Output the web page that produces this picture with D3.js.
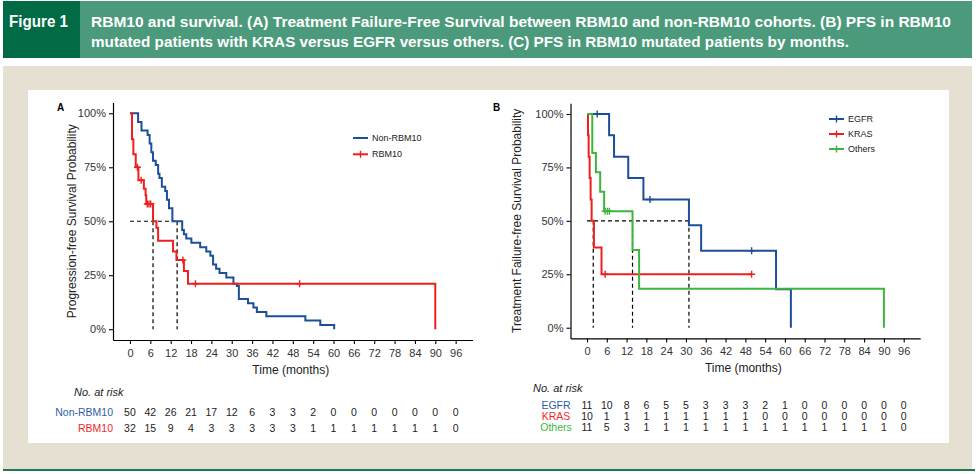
<!DOCTYPE html>
<html>
<head>
<meta charset="utf-8">
<script src="https://cdn.jsdelivr.net/npm/d3@7"></script>
<style>
  body { margin: 0; background: #fff; }
  svg { display: block; font-family: "Liberation Sans", Arial, sans-serif; }
</style>
</head>
<body>
<svg id="chart" width="978" height="474"></svg>
<script>
// ---- data ----
const monthTicks = d3.range(0, 97, 6);
const survTicks = [0, 0.25, 0.5, 0.75, 1];

// Panel A: progression-free survival, Non-RBM10 vs RBM10
const nonRbmTimes = [0, 2.4, 3.4, 5.2, 5.8, 6.3, 6.8, 7.6, 8.3, 8.7, 9.4, 10.4, 10.9, 11.5, 12.5,
  15.4, 15.9, 16.6, 18.1, 20.7, 22.5, 23.7, 24.5, 25.4, 26.4, 28.4, 30.5, 31.5, 32.1, 34.8,
  36.4, 37.4, 40.2, 51.7, 56.1, 60.2];
const nonRbmSurv = [1, 0.96, 0.92, 0.90, 0.86, 0.82, 0.78, 0.76, 0.72, 0.70, 0.66, 0.64, 0.60, 0.56, 0.50,
  0.46, 0.44, 0.42, 0.40, 0.38, 0.36, 0.34, 0.30, 0.28, 0.26, 0.24, 0.21, 0.20, 0.14, 0.12,
  0.10, 0.08, 0.06, 0.04, 0.02, 0];
const rbmTimes = [0, 0.6, 1.0, 1.7, 2.5, 4.1, 4.6, 4.8, 6.8, 7.8, 8.3, 12.7, 13.7, 15.9, 17.1, 90];
const rbmSurv = [1, 0.88, 0.81, 0.75, 0.69, 0.65, 0.62, 0.58, 0.50, 0.47, 0.41, 0.36, 0.32, 0.27, 0.21, 0];
const rbmCensor = [2.2, 3.3, 5.1, 5.6, 6.1, 15.6, 19.3, 50];
const mediansA = [6.8, 13.9];

const riskGroupsA = ["Non-RBM10", "RBM10"];
const riskNonRbm = [50, 42, 26, 21, 17, 12, 6, 3, 3, 2, 0, 0, 0, 0, 0, 0, 0];
const riskRbm = [32, 15, 9, 4, 3, 3, 3, 3, 3, 1, 1, 1, 1, 1, 1, 1, 0];

// Panel B: treatment failure-free survival by co-mutation
const egfrTimes = [0, 6.7, 8.2, 12.5, 17.1, 30.9, 34.6, 57.3, 61.8];
const egfrSurv = [1, 0.9, 0.8, 0.7, 0.6, 0.48, 0.36, 0.18, 0];
const egfrCensor = [3.1, 19.1, 49.9];
const krasTimes = [0, 0.3, 0.5, 0.8, 1.1, 1.4, 2.1, 4.4, 49.9];
const krasSurv = [1, 0.9, 0.8, 0.7, 0.6, 0.5, 0.375, 0.25, 0.25];
const krasCensor = [5.5, 49.9];
const othersTimes = [0, 1.6, 2.7, 4.0, 5.2, 13.8, 15.8, 90];
const othersSurv = [1, 0.818, 0.727, 0.636, 0.545, 0.364, 0.182, 0];
const othersCensor = [5.5, 6.2, 6.8];
const mediansB = [1.9, 13.8, 30.9];

const riskGroupsB = ["EGFR", "KRAS", "Others"];
const riskEgfr = [11, 10, 8, 6, 5, 5, 3, 3, 3, 2, 1, 0, 0, 0, 0, 0, 0];
const riskKras = [10, 1, 1, 1, 1, 1, 1, 1, 1, 0, 0, 0, 0, 0, 0, 0, 0];
const riskOthers = [11, 5, 3, 1, 1, 1, 1, 1, 1, 1, 1, 1, 1, 1, 1, 1, 0];

// ---- colours ----
const blue = "#1d4f98", red = "#ee1f1f", green = "#3fb43f";
const txt = "#222";

const svg = d3.select("#chart");

// ---- page frame ----
svg.append("rect").attr("x", 3).attr("y", 1).attr("width", 969).attr("height", 57).attr("fill", "#4b9a7c");
svg.append("rect").attr("x", 3).attr("y", 1).attr("width", 77).attr("height", 57).attr("fill", "#006b45");
svg.append("rect").attr("x", 3).attr("y", 66).attr("width", 969).attr("height", 403).attr("fill", "#e6e0d2");
svg.append("rect").attr("x", 28).attr("y", 90).attr("width", 921).attr("height", 353).attr("fill", "#fff");
svg.append("rect").attr("x", 3).attr("y", 469).attr("width", 972).attr("height", 2).attr("fill", "#1e7a52");

const headFont = '"Liberation Sans Narrow", "Arial Narrow", "Liberation Sans", sans-serif';
svg.append("text").attr("x", 9).attr("y", 27)
  .attr("textLength", 59).attr("lengthAdjust", "spacingAndGlyphs")
  .style("font-family", headFont).style("font-weight", "bold").style("font-size", "16px")
  .attr("fill", "#fff").text("Figure 1");
svg.append("text").attr("x", 91).attr("y", 27)
  .attr("textLength", 860).attr("lengthAdjust", "spacingAndGlyphs")
  .style("font-family", headFont).style("font-weight", "bold").style("font-size", "15px")
  .attr("fill", "#fff")
  .text("RBM10 and survival. (A) Treatment Failure-Free Survival between RBM10 and non-RBM10 cohorts. (B) PFS in RBM10");
svg.append("text").attr("x", 91).attr("y", 47)
  .attr("textLength", 758).attr("lengthAdjust", "spacingAndGlyphs")
  .style("font-family", headFont).style("font-weight", "bold").style("font-size", "15px")
  .attr("fill", "#fff")
  .text("mutated patients with KRAS versus EGFR versus others. (C) PFS in RBM10 mutated patients by months.");

// ---- one Kaplan-Meier panel ----
function drawPanel(p) {
  const x = d3.scaleLinear().domain([-5, 101]).range([p.left, p.left + p.xLen]);
  const zeroX = x(0);
  const y = d3.scaleLinear().domain([-0.05, 1.05]).range([p.bottom, p.top]);
  const g = svg.append("g");

  // axes
  const xAxis = g.append("g").attr("transform", `translate(0,${p.bottom})`)
    .call(d3.axisBottom(x).tickValues(monthTicks).tickSize(4).tickSizeOuter(0));
  const yAxis = g.append("g").attr("transform", `translate(${p.left},0)`)
    .call(d3.axisLeft(y).tickValues(survTicks).tickFormat(d3.format(".0%")).tickSize(4).tickSizeOuter(0));
  [xAxis, yAxis].forEach(a => {
    a.select(".domain").attr("stroke", "#000").attr("stroke-width", 1.2);
    a.selectAll(".tick line").attr("stroke", "#000").attr("stroke-width", 1.1);
    a.selectAll(".tick text").attr("fill", "#333").style("font-size", "11px")
      .style("font-family", '"Liberation Sans", Arial, sans-serif');
  });
  xAxis.selectAll(".tick text").attr("dy", "0.9em");

  // axis titles and panel letter
  g.append("text").attr("x", p.left - 2 + (p.xLen) / 2).attr("y", p.bottom + 34)
    .attr("text-anchor", "middle").style("font-size", "12px").attr("fill", txt).text("Time (months)");
  g.append("text").attr("transform", `translate(${p.yTitleX},${(p.top + p.bottom) / 2}) rotate(-90)`)
    .attr("text-anchor", "middle").style("font-size", "12px").attr("fill", txt).text(p.yTitle);
  g.append("text").attr("x", p.letterX).attr("y", 111).style("font-size", "10px")
    .style("font-weight", "bold").attr("fill", "#000").text(p.letter);

  // median guides
  const dash = g.append("g").attr("stroke", "#000").attr("stroke-width", 1.2)
    .attr("stroke-dasharray", "4,3").attr("fill", "none");
  dash.append("line").attr("x1", x(0)).attr("x2", x(d3.max(p.medians)))
    .attr("y1", y(0.5)).attr("y2", y(0.5));
  p.medians.forEach(m => {
    dash.append("line").attr("x1", x(m)).attr("x2", x(m)).attr("y1", y(0.5)).attr("y2", y(0));
  });

  // survival curves
  const line = d3.line().x(d => x(d[0])).y(d => y(d[1])).curve(d3.curveStepAfter);
  p.curves.forEach(c => {
    const pts = c.times.map((t, i) => [t, c.surv[i]]);
    g.append("path").datum(pts).attr("d", line).attr("fill", "none")
      .attr("stroke", c.color).attr("stroke-width", 2);
    const survAt = t => {
      let s = 1;
      c.times.forEach((tt, i) => { if (tt <= t) s = c.surv[i]; });
      return s;
    };
    (c.censor || []).forEach(t => {
      const cx = x(t), cy = y(survAt(t));
      g.append("path").attr("d", `M${cx},${cy - 3.5}V${cy + 3.5}M${cx - 3.5},${cy}H${cx + 3.5}`)
        .attr("stroke", c.color).attr("stroke-width", 1.4);
    });
  });

  // legend
  p.curves.forEach((c, i) => {
    const ly = p.legendY + i * p.legendStep;
    g.append("line").attr("x1", p.legendX).attr("x2", p.legendX + 15).attr("y1", ly).attr("y2", ly)
      .attr("stroke", c.color).attr("stroke-width", 2);
    if (c.censor) {
      g.append("line").attr("x1", p.legendX + 7.5).attr("x2", p.legendX + 7.5)
        .attr("y1", ly - 3.5).attr("y2", ly + 3.5).attr("stroke", c.color).attr("stroke-width", 1.4);
    }
    g.append("text").attr("x", p.legendX + 19).attr("y", ly).attr("dy", "0.35em")
      .style("font-size", "9px").attr("fill", txt).text(c.name);
  });

  // risk table
  g.append("text").attr("x", p.riskTitleX).attr("y", p.riskTitleY).attr("dy", "0.35em")
    .style("font-size", "11px").style("font-style", "italic").attr("fill", txt).text("No. at risk");
  p.risk.forEach((r, i) => {
    const ry = p.riskY + i * p.riskStep;
    g.append("text").attr("x", p.riskLabelX).attr("y", ry).attr("dy", "0.35em")
      .attr("text-anchor", p.riskAnchor).style("font-size", "10.5px").attr("fill", r.color).text(r.name);
    g.selectAll(null).data(r.values).join("text")
      .attr("x", (d, j) => x(monthTicks[j])).attr("y", ry).attr("dy", "0.35em")
      .attr("text-anchor", "middle").style("font-size", "10.5px").attr("fill", txt)
      .text(d => d);
  });
}

drawPanel({
  letter: "A", letterX: 57,
  left: 113, xLen: 359.6, top: 102.5, bottom: 340,
  yTitle: "Progression-free Survival Probability", yTitleX: 76,
  medians: mediansA,
  curves: [
    { name: "Non-RBM10", times: nonRbmTimes, surv: nonRbmSurv, color: blue },
    { name: "RBM10", times: rbmTimes, surv: rbmSurv, censor: rbmCensor, color: red }
  ],
  legendX: 353, legendY: 138, legendStep: 16.3,
  riskTitleX: 74, riskTitleY: 392, riskY: 412.5, riskStep: 15.5,
  riskLabelX: 113, riskAnchor: "end",
  risk: [
    { name: riskGroupsA[0], values: riskNonRbm, color: "#2f5ea8" },
    { name: riskGroupsA[1], values: riskRbm, color: "#ee2a2a" }
  ]
});

drawPanel({
  letter: "B", letterX: 493,
  left: 570.5, xLen: 349.7, top: 103.3, bottom: 338.4,
  yTitle: "Treatment Failure-free Survival Probability", yTitleX: 521,
  medians: mediansB,
  curves: [
    { name: "EGFR", times: egfrTimes, surv: egfrSurv, censor: egfrCensor, color: blue },
    { name: "KRAS", times: krasTimes, surv: krasSurv, censor: krasCensor, color: red },
    { name: "Others", times: othersTimes, surv: othersSurv, censor: othersCensor, color: green }
  ],
  legendX: 829, legendY: 119, legendStep: 15,
  riskTitleX: 533, riskTitleY: 388, riskY: 405, riskStep: 11.3,
  riskLabelX: 556, riskAnchor: "middle",
  risk: [
    { name: riskGroupsB[0], values: riskEgfr, color: "#2d5caa" },
    { name: riskGroupsB[1], values: riskKras, color: "#f22a2a" },
    { name: riskGroupsB[2], values: riskOthers, color: "#3ab83a" }
  ]
});
</script>
</body>
</html>
